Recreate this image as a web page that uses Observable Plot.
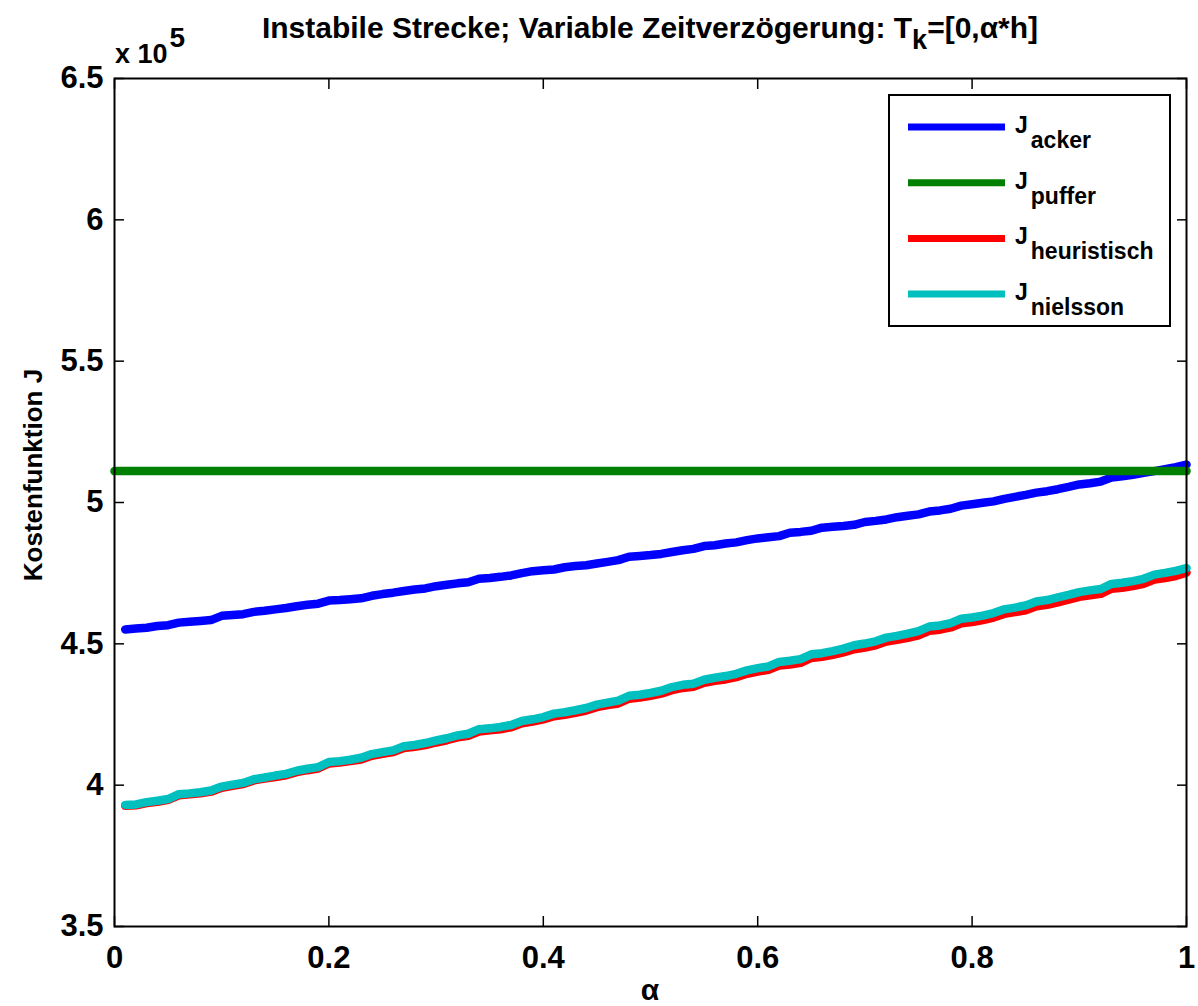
<!DOCTYPE html>
<html><head><meta charset="utf-8">
<script src="https://cdn.jsdelivr.net/npm/d3@7"></script>
<script src="https://cdn.jsdelivr.net/npm/@observablehq/plot@0.6"></script>
<style>body{margin:0;background:#fff;}</style>
</head><body><div id="chart"></div>
<script>
// alpha values (x)
const alpha = [0.01,0.02,0.03,0.04,0.05,0.06,0.07,0.08,0.09,0.10,
0.11,0.12,0.13,0.14,0.15,0.16,0.17,0.18,0.19,0.20,
0.21,0.22,0.23,0.24,0.25,0.26,0.27,0.28,0.29,0.30,
0.31,0.32,0.33,0.34,0.35,0.36,0.37,0.38,0.39,0.40,
0.41,0.42,0.43,0.44,0.45,0.46,0.47,0.48,0.49,0.50,
0.51,0.52,0.53,0.54,0.55,0.56,0.57,0.58,0.59,0.60,
0.61,0.62,0.63,0.64,0.65,0.66,0.67,0.68,0.69,0.70,
0.71,0.72,0.73,0.74,0.75,0.76,0.77,0.78,0.79,0.80,
0.81,0.82,0.83,0.84,0.85,0.86,0.87,0.88,0.89,0.90,
0.91,0.92,0.93,0.94,0.95,0.96,0.97,0.98,0.99,1.00];

// Cost values in units of 10^5
const jAcker = [4.551,4.554,4.557,4.563,4.566,4.575,4.578,4.581,4.584,4.599,
4.602,4.605,4.613,4.617,4.622,4.627,4.633,4.638,4.642,4.653,
4.655,4.658,4.661,4.670,4.676,4.681,4.687,4.692,4.696,4.704,
4.709,4.714,4.718,4.730,4.733,4.737,4.742,4.750,4.757,4.760,
4.763,4.771,4.775,4.778,4.784,4.790,4.796,4.808,4.811,4.814,
4.818,4.825,4.831,4.836,4.846,4.849,4.855,4.859,4.867,4.873,
4.877,4.881,4.893,4.896,4.900,4.911,4.914,4.917,4.921,4.931,
4.935,4.940,4.948,4.953,4.958,4.968,4.972,4.978,4.989,4.994,
4.999,5.004,5.013,5.020,5.027,5.035,5.040,5.047,5.055,5.064,
5.068,5.074,5.088,5.093,5.098,5.105,5.111,5.118,5.125,5.134];

const pufferAlpha = [0, 1];
const jPuffer = [5.111, 5.111];

const jHeuristisch = [3.927,3.929,3.937,3.941,3.948,3.964,3.968,3.971,3.977,3.991,
3.998,4.004,4.017,4.023,4.029,4.035,4.046,4.053,4.059,4.077,
4.080,4.085,4.091,4.104,4.111,4.117,4.131,4.136,4.142,4.151,
4.159,4.169,4.175,4.190,4.194,4.198,4.205,4.219,4.225,4.233,
4.244,4.249,4.256,4.264,4.276,4.283,4.289,4.306,4.310,4.316,
4.324,4.336,4.344,4.348,4.362,4.369,4.374,4.382,4.394,4.402,
4.408,4.423,4.427,4.433,4.450,4.454,4.461,4.470,4.481,4.487,
4.495,4.508,4.514,4.521,4.530,4.546,4.550,4.558,4.573,4.577,
4.584,4.593,4.606,4.612,4.619,4.633,4.638,4.647,4.656,4.666,
4.672,4.677,4.695,4.698,4.704,4.712,4.727,4.733,4.740,4.752];

const jNielsson = [3.930,3.932,3.940,3.945,3.951,3.968,3.971,3.975,3.981,3.995,
4.002,4.008,4.021,4.027,4.034,4.040,4.051,4.058,4.064,4.082,
4.085,4.090,4.097,4.110,4.117,4.123,4.138,4.142,4.149,4.158,
4.166,4.176,4.182,4.198,4.201,4.206,4.213,4.227,4.233,4.241,
4.253,4.258,4.265,4.273,4.285,4.292,4.299,4.316,4.320,4.326,
4.334,4.347,4.355,4.359,4.373,4.380,4.386,4.394,4.406,4.414,
4.420,4.436,4.440,4.446,4.463,4.467,4.474,4.483,4.495,4.501,
4.509,4.522,4.528,4.536,4.545,4.561,4.565,4.573,4.589,4.593,
4.600,4.609,4.622,4.628,4.636,4.650,4.655,4.664,4.673,4.683,
4.689,4.694,4.712,4.716,4.722,4.730,4.745,4.751,4.758,4.768];

const xTicks = [0, 0.2, 0.4, 0.6, 0.8, 1];
const yTicks = [3.5, 4, 4.5, 5, 5.5, 6, 6.5];
const seriesNames = ["acker", "puffer", "heuristisch", "nielsson"];
const seriesColors = ["#0000ff", "#008000", "#ff0000", "#00bfbf"];

(function () {
const rows = (xs, ys) => xs.map((a, i) => ({alpha: a, J: ys[i]}));

const FONT = "'Liberation Sans', Arial, Helvetica, sans-serif";
const LW = 8.5;

const chart = Plot.plot({
  width: 1198, height: 1006,
  marginTop: 78, marginBottom: 80, marginLeft: 114, marginRight: 12,
  style: {fontFamily: FONT, fontSize: "31px", fontWeight: "bold", color: "black", background: "white", overflow: "visible"},
  x: {domain: [0, 1], axis: null},
  y: {domain: [3.5, 6.5], axis: null},
  marks: [
    Plot.line(rows(alpha, jAcker), {x: "alpha", y: "J", stroke: seriesColors[0], strokeWidth: LW, strokeLinejoin: "round"}),
    Plot.line(rows(pufferAlpha, jPuffer), {x: "alpha", y: "J", stroke: seriesColors[1], strokeWidth: LW}),
    Plot.line(rows(alpha, jHeuristisch), {x: "alpha", y: "J", stroke: seriesColors[2], strokeWidth: LW, strokeLinejoin: "round"}),
    Plot.line(rows(alpha, jNielsson), {x: "alpha", y: "J", stroke: seriesColors[3], strokeWidth: LW, strokeLinejoin: "round"}),
    Plot.axisX(xTicks, {anchor: "bottom", tickSize: -10, tickFormat: () => "", label: null, strokeWidth: 1.5}),
    Plot.axisX(xTicks, {anchor: "top", tickSize: -10, tickFormat: () => "", label: null, strokeWidth: 1.5}),
    Plot.axisY(yTicks, {anchor: "left", tickSize: -10, tickFormat: () => "", label: null, strokeWidth: 1.5}),
    Plot.axisY(yTicks, {anchor: "right", tickSize: -10, tickFormat: () => "", label: null, strokeWidth: 1.5}),
    Plot.axisX(xTicks, {anchor: "bottom", tickSize: 0, tickPadding: 19, fontSize: 31, tickFormat: d => String(d), label: null}),
    Plot.axisY(yTicks, {anchor: "left", tickSize: 0, tickPadding: 11, fontSize: 31, tickFormat: d => String(d), label: null}),
    Plot.frame({stroke: "black", strokeWidth: 2})
  ]
});

document.getElementById("chart").appendChild(chart);

const svg = d3.select(chart);
const xs = chart.scale("x");
const pLeft = xs.range[0], pRight = xs.range[1];
const cx = (pLeft + pRight) / 2;

const txt = (sel) => sel.attr("font-family", FONT).attr("font-weight", "bold").attr("fill", "black");

// Title
const title = txt(svg.append("text")).attr("x", cx).attr("y", 38).attr("text-anchor", "middle")
  .attr("font-size", 30);
title.append("tspan").text("Instabile Strecke; Variable Zeitverzögerung: T");
title.append("tspan").attr("font-size", 27).attr("dy", 11).text("k");
title.append("tspan").attr("dy", -11).text("=[0,α*h]");

// Exponent
const ex = txt(svg.append("text")).attr("x", pLeft + 1).attr("y", 63).attr("text-anchor", "start")
  .attr("font-size", 27);
ex.append("tspan").text("x 10");
ex.append("tspan").attr("font-size", 28).attr("dy", -16).attr("dx", 2).text("5");

// Axis labels
txt(svg.append("text")).attr("x", cx).attr("y", 1000).attr("text-anchor", "middle")
  .attr("font-size", 30).text("α");
txt(svg.append("text")).attr("transform", `translate(42,475) rotate(-90)`)
  .attr("text-anchor", "middle").attr("font-size", 26).text("Kostenfunktion J");

// Legend
const lg = svg.append("g");
lg.append("rect").attr("x", 889).attr("y", 95).attr("width", 281).attr("height", 231)
  .attr("fill", "white").attr("stroke", "black").attr("stroke-width", 2);
seriesNames.forEach((name, i) => {
  const yy = 127 + i * 55.7;
  lg.append("line").attr("x1", 908).attr("x2", 1005).attr("y1", yy).attr("y2", yy)
    .attr("stroke", seriesColors[i]).attr("stroke-width", 7);
  const t = txt(lg.append("text")).attr("x", 1015).attr("y", yy + 6).attr("text-anchor", "start")
    .attr("font-size", 23);
  t.append("tspan").text("J");
  t.append("tspan").attr("dy", 15).attr("dx", 3).text(name);
});
})();
</script></body></html>
